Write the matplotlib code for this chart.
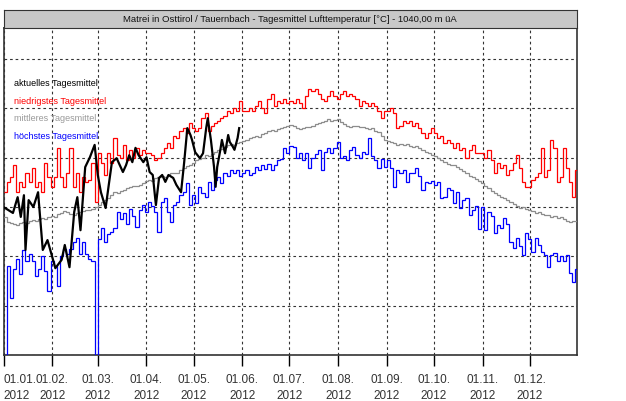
import numpy as np
import matplotlib
matplotlib.use("Agg")
import matplotlib.pyplot as plt

plt.rcParams['font.family'] = ['Liberation Sans', 'DejaVu Sans']

# Tagesmittel Lufttemperatur [°C], ein Wert je zwei Tage (01.01.2012 - 31.12.2012)
niedrigstes = [
    3, 5, 6, 8.5, 3, 5, 4, 7, 5, 8, 4, 5, 3, 9, 6, 4,                    # Jan
    6, 12, 6, 4, 7, 12, 4, 7, 3, 6, 5, 5.5, 9, 1,                        # Feb
    11, 9, 6.5, 11, 9, 14, 10.5, 10, 12.5, 9.5, 11.5, 10, 12, 10.5, 11.5, 11,  # Mar
    11, 10.5, 9.5, 10, 11, 12, 13, 12, 14.5, 14, 15.5, 16, 15, 17, 16,   # Apr
    15.5, 16, 18, 19, 15.5, 16.5, 17, 17.5, 18, 18.5, 19.5, 19, 20, 19.5, 21.5, 19.5,  # Mai
    19.5, 20, 19.5, 20.5, 21.5, 20, 19, 22, 23, 20.5, 21.5, 21, 22, 21, 21.5,  # Jun
    21, 22, 21, 20, 22.5, 24, 23.5, 24, 23, 22, 21.5, 22.5, 23.5, 22.5, 22,    # Jul
    23, 23.5, 22.5, 23, 22.5, 22, 20.5, 21.5, 21, 20.5, 21, 20.5, 19.5, 18, 19.5,  # Aug
    19.5, 20, 19, 16, 16.5, 17.5, 17, 17.5, 16.5, 17, 16, 15, 14, 15, 16,  # Sep
    15, 14, 14.5, 13, 13.5, 13, 12, 13, 11.5, 12, 10, 11.5, 12.5, 11, 11,  # Okt
    11, 10, 11.5, 9.5, 7, 9, 8, 8.5, 6.5, 7.5, 9, 10.5, 8, 5, 4,          # Nov
    4, 5.5, 6, 7, 12, 6, 7.5, 13.5, 12, 5, 6, 12, 8, 5, 2, 7.5,          # Dez
]

mittleres = [
    -2, -3, -3.3, -3.4, -3.6, -3.2, -3, -3.2, -2.8, -2.6, -2.8, -2.5, -2.2, -2.4, -2, -1.8,
    -2, -1.5, -1.2, -0.8, -1.0, -1.4, -1.6, -1.2, -1.0, -0.8, -0.5, -0.6, -0.3, 0,
    0.5, 1, 1.5, 1.8, 2.5, 3, 2.8, 3.2, 3.5, 3.8, 4, 4.3, 4.2, 4.5, 4.8, 5.2,
    5.5, 5.3, 5.8, 6, 6.3, 6, 6.5, 6.8, 7, 6.8, 7.5, 8, 8.3, 8.5, 9,
    9.5, 9.8, 10, 10.5, 10.3, 10.8, 11.2, 11.5, 11.8, 12.2, 12.5, 12.8, 12.6, 13, 13.2, 13.4,
    13.6, 14, 14.2, 14.5, 14.3, 14.8, 15, 15.4, 15.6, 15.4, 15.8, 16, 16.2, 16.4, 16.6,
    16.4, 16, 15.8, 16, 16.3, 16.2, 16.5, 16.8, 17, 17.2, 17.5, 17.8, 17.4, 17.6, 17.8,
    17.3, 16.8, 16.5, 16.2, 16.4, 16.5, 16.2, 16.3, 16, 15.8, 16, 15.5, 15.2, 14.5, 13.6,
    13.4, 13.2, 13, 12.6, 12.8, 12.6, 12.8, 12.4, 12.2, 12.3, 12, 11.6, 11.2, 11, 10.6,
    10.4, 10, 9.5, 9.1, 8.8, 8.5, 8.6, 8.2, 7.8, 7.4, 6.8, 6.2, 6, 5.6, 5.2,
    4.8, 4.2, 3.8, 3.2, 2.8, 2.4, 2, 1.8, 1.4, 1, 0.6, 0.2, -0.2, 0, -0.4,
    -0.6, -0.8, -1.2, -1.0, -1.5, -1.7, -1.6, -2, -1.8, -2.2, -2.0, -2.4, -2.8, -3.1, -2.9, -2.8,
]

hoechstes = [
    -30, -12, -18.5, -12.5, -10.5, -13.5, -8.7, -11, -9.5, -11, -14, -12.5, -10, -13, -17, -11,
    -12, -16, -10, -8.5, -9.5, -8.5, -7, -6.3, -9.5, -7, -9.5, -10.5, -11, -30,
    -6.5, -4.3, -7, -5.5, -5, -4.3, -1, -2.5, -1.2, -3.5, -0.3, -1.8, -4, -0.5, 0.4, -1,
    1, 0.2, -1, -5, 1, 1.8, -1, -3, 0.4, 1, 2.4, 3, 4.9, 0.5, 2.5,
    0.8, 4, 2.8, 2, 5, 3.5, 5.5, 6, 4.8, 7, 6.3, 7.5, 7, 7.6, 6.3, 7,
    7.5, 6.5, 7, 8.1, 7.5, 8.5, 7.8, 8.8, 7.5, 8.5, 9.5, 9.8, 12, 11, 12.3,
    12.2, 10, 11, 9.5, 11, 7.9, 10, 10.8, 11.6, 7.5, 11.2, 12, 11, 12, 13.2,
    10, 10.3, 9.5, 11.6, 12.2, 10.5, 10, 11.2, 10.8, 14, 10.3, 9.5, 8, 9.8, 8.2,
    9.5, 8, 4.1, 7.5, 7, 7.5, 5.1, 6.8, 7, 7.9, 6.2, 3.4, 5.1, 4.8, 5.2,
    4.5, 5, 1.8, 2, 3.8, 3.5, 0.8, 3, -0.2, 1.4, 1.8, -1.6, -0.5, 0.2, -4.5,
    0, -4.7, -1, -1.8, -5.3, -3.7, -4.3, -2.2, -3.5, -7.1, -8.3, -6.3, -7.8, -9.7, -5.3,
    -6.5, -9.1, -6.3, -7.6, -9.1, -9.7, -12.2, -9.7, -9.3, -11, -10, -11, -9.7, -13.4, -15.2, -12.5,
]

# aktuelles Jahr bis Ende Mai (Tag im Jahr, Temperatur)
aktuell_tag = [0, 6, 9, 11, 13, 14, 16, 19, 22, 25, 28, 31, 33, 37, 39, 42, 45, 47, 49, 52,
               55, 58, 60, 62, 65, 67, 69, 72, 74, 76, 78, 80, 82, 84, 86, 89, 91, 93, 95,
               97, 99, 101, 103, 105, 108, 110, 113, 115, 117, 119, 120, 122, 125, 127, 129,
               130, 132, 134, 135, 136, 138, 139, 141, 143, 144, 146, 147, 149, 150]
aktuell = [0.0, -1.2, 2.0, -2.0, 2.4, -8.7, 1.4, 0.0, 3.0, -8.7, -6.7, -10.1, -12.4, -10.7,
           -7.7, -12.2, -1.0, 2.0, -4.7, 8.1, 10.1, 12.6, 6.5, 3.0, -0.2, 4.5, 9.1, 9.9, 8.5,
           7.1, 8.5, 10.5, 9.1, 12.0, 10.5, 9.1, 10.1, 7.1, 6.5, 0.4, 5.9, 6.5, 5.1, 6.5, 5.9,
           4.5, 3.0, 9.1, 16.0, 14.6, 13.6, 11.1, 9.9, 10.9, 16.0, 18.0, 13.6, 8.1, 4.1, 8.1,
           11.6, 13.6, 10.9, 14.6, 13.2, 12.2, 11.6, 14.0, 16.0]

monate = ['01', '02', '03', '04', '05', '06', '07', '08', '09', '10', '11', '12']
tage_pro_monat = [31, 29, 31, 30, 31, 30, 31, 31, 30, 31, 30, 31]

titel = "Matrei in Osttirol / Tauernbach - Tagesmittel Lufttemperatur [°C] - 1040,00 m üA"

W, H = 626, 401
fig = plt.figure(figsize=(W / 100, H / 100), dpi=100)
x0, x1, y_top, y_bot = 3.5, 577, 28, 355
ax = fig.add_axes([x0 / W, 1 - y_bot / H, (x1 - x0) / W, (y_bot - y_top) / H])

kanten = np.arange(0, 2 * len(mittleres) + 1, 2)
ax.stairs(mittleres, kanten, baseline=None, color='#8c8c8c', lw=0.9, zorder=3)
ax.stairs(niedrigstes, kanten, baseline=None, color='#ff0000', lw=0.9, zorder=4)
ax.stairs(hoechstes, kanten, baseline=None, color='#0000ff', lw=0.9, zorder=4)
ax.plot(aktuell_tag, aktuell, color='black', lw=1.6, zorder=5)

ax.set_xlim(0, 365)
ax.set_ylim(-30, 36.3)

monatsanfang = np.concatenate([[0], np.cumsum(tage_pro_monat)[:-1]])
ax.set_xticks(monatsanfang)
ax.set_xticklabels([f"01.{m}.\n2012" for m in monate], fontsize=8.5,
                   color='#333333', linespacing=1.4)
ax.get_xticklabels()[0].set_ha('left')
ax.tick_params(axis='x', direction='out', length=8, width=1, pad=6)
ax.set_yticks(np.arange(-30, 31, 10))
ax.tick_params(axis='y', length=0, labelleft=False)
ax.grid(True, linestyle=(0, (2.4, 2.6)), color='#333333', lw=0.8, zorder=1)
for s in ax.spines.values():
    s.set_color('#333333')
    s.set_linewidth(1.2)

legende = [('aktuelles Tagesmittel', 'black'), ('niedrigstes Tagesmittel', 'red'),
           ('mittleres Tagesmittel', '#999999'), ('höchstes Tagesmittel', 'blue')]
for i, (txt, c) in enumerate(legende):
    ax.text(0.0183, 0.829 - i * 0.0535, txt, color=c, fontsize=6.5,
            transform=ax.transAxes, va='center', ha='left')

# Titelleiste
tax = fig.add_axes([x0 / W, 1 - y_top / H, (x1 - x0) / W, 18 / H])
tax.set_facecolor('#c8c8c8')
tax.set_xticks([])
tax.set_yticks([])
for s in tax.spines.values():
    s.set_color('#333333')
tax.text(0.5, 0.5, titel, ha='center', va='center', fontsize=6.8, color='#111111')

fig.savefig('out.png', dpi=100)
